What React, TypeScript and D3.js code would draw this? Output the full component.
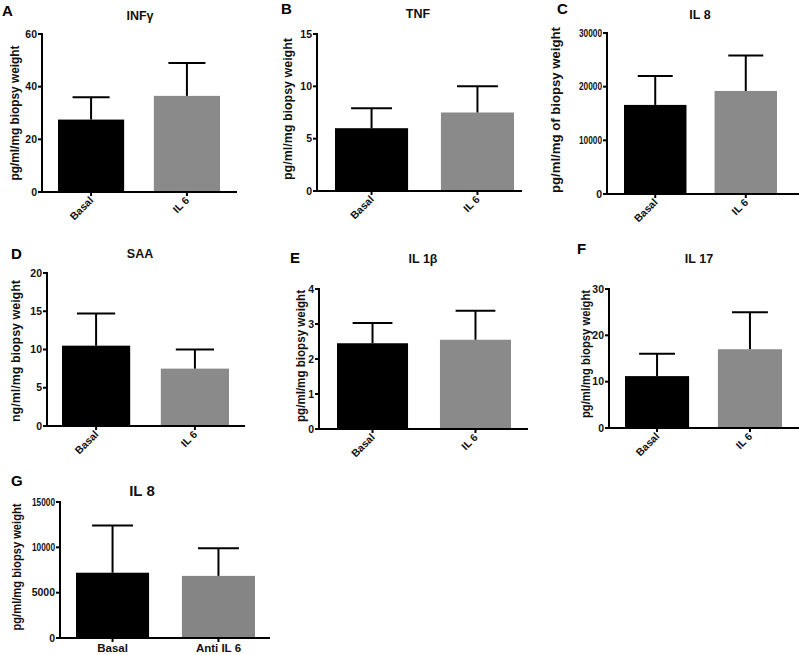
import React from 'react';
import * as d3 from 'd3';

// data, one entry per panel (A..G)
const panelLetters = ['A', 'B', 'C', 'D', 'E', 'F', 'G'];
const panelTitles = ['INFγ', 'TNF', 'IL 8', 'SAA', 'IL 1β', 'IL 17', 'IL 8'];
const yLabels = [
  'pg/ml/mg biopsy weight',
  'pg/ml/mg biopsy weight',
  'pg/ml/mg of biopsy weight',
  'ng/ml/mg biopsy weight',
  'pg/ml/mg biopsy weight',
  'pg/ml/mg biopsy weight',
  'pg/ml/mg biopsy weight',
];
const groups = [
  ['Basal', 'IL 6'],
  ['Basal', 'IL 6'],
  ['Basal', 'IL 6'],
  ['Basal', 'IL 6'],
  ['Basal', 'IL 6'],
  ['Basal', 'IL 6'],
  ['Basal', 'Anti IL 6'],
];
const means = [
  [27.5, 36.5],
  [6.0, 7.5],
  [16600, 19200],
  [10.5, 7.5],
  [2.45, 2.55],
  [11.2, 17.0],
  [7200, 6850],
];
const upperErr = [
  [36, 49],
  [7.9, 10.0],
  [22000, 25800],
  [14.7, 10.0],
  [3.03, 3.38],
  [16.0, 25.0],
  [12400, 9900],
];
const yTicks = [
  [0, 20, 40, 60],
  [0, 5, 10, 15],
  [0, 10000, 20000, 30000],
  [0, 5, 10, 15, 20],
  [0, 1, 2, 3, 4],
  [0, 10, 20, 30],
  [0, 5000, 10000, 15000],
];

// layout (pixels) for each panel
const layout = [
  { ax: 42, axEnd: 237, bars: [58, 220], y0: 192, y1: 34, lx: 15, ly: 113, lw: 135, tx: 140, ty: 20, tfs: 12.5, cx: 2, cy: 16, rotated: true },
  { ax: 317, axEnd: 522, bars: [335, 514], y0: 191, y1: 34, lx: 288, ly: 109, lw: 142, tx: 418, ty: 18, tfs: 12.5, cx: 281, cy: 14, rotated: true },
  { ax: 607, axEnd: 799, bars: [624, 777], y0: 194, y1: 33, lx: 556, ly: 110, lw: 166, tx: 700, ty: 19, tfs: 12.5, cx: 557, cy: 14, rotated: true },
  { ax: 47, axEnd: 245, bars: [62, 229], y0: 426, y1: 273, lx: 16, ly: 351, lw: 142, tx: 140, ty: 258, tfs: 12.5, cx: 11, cy: 259, rotated: true },
  { ax: 319, axEnd: 528, bars: [337, 511], y0: 429, y1: 289, lx: 301, ly: 356, lw: 132, tx: 423, ty: 263, tfs: 12.5, cx: 290, cy: 263, rotated: true },
  { ax: 609, axEnd: 799, bars: [625, 782], y0: 428, y1: 289, lx: 586, ly: 354, lw: 128, tx: 699, ty: 263, tfs: 12.5, cx: 577, cy: 254, rotated: true },
  { ax: 60, axEnd: 270, bars: [76, 255], y0: 638, y1: 502, lx: 17, ly: 567, lw: 127, tx: 142, ty: 496, tfs: 15, cx: 11, cy: 486, rotated: false },
];

const FONT = 'Arial, "Liberation Sans", Helvetica, sans-serif';

const Panel: React.FC<{ i: number }> = ({ i }) => {
  const L = layout[i];
  const ticks = yTicks[i];
  const y = d3.scaleLinear().domain([0, ticks[ticks.length - 1]]).range([L.y0, L.y1]);
  const x = d3.scaleBand<string>().domain(groups[i]).range(L.bars as [number, number]).paddingInner(0.31).paddingOuter(0);
  const bw = x.bandwidth();
  const fills = ['#000000', i === 6 ? '#858585' : '#8a8a8a'];

  return (
    <g fontFamily={FONT} fontWeight="bold">
      {/* bars */}
      {groups[i].map((g, j) => (
        <rect key={g} x={x(g)} y={y(means[i][j])} width={bw} height={L.y0 - y(means[i][j])} fill={fills[j]} />
      ))}
      {/* upper error bars */}
      {groups[i].map((g, j) => {
        const cxm = (x(g) || 0) + bw / 2;
        const cap = bw * 0.28;
        return (
          <g key={g + '-err'} stroke="#000" strokeWidth={2}>
            <line x1={cxm} x2={cxm} y1={y(means[i][j])} y2={y(upperErr[i][j])} />
            <line x1={cxm - cap} x2={cxm + cap} y1={y(upperErr[i][j])} y2={y(upperErr[i][j])} />
          </g>
        );
      })}
      {/* axes */}
      <line x1={L.ax} x2={L.ax} y1={L.y1 - 1} y2={L.y0} stroke="#000" strokeWidth={2} />
      <line x1={L.ax - 1} x2={L.axEnd} y1={L.y0} y2={L.y0} stroke="#000" strokeWidth={2} />
      {ticks.map(t => {
        const s = String(t);
        const long = s.length >= 5;
        return (
          <g key={t}>
            <line x1={L.ax - 4} x2={L.ax} y1={y(t)} y2={y(t)} stroke="#000" strokeWidth={2} />
            <text x={L.ax - 5} y={y(t)} dy="0.35em" textAnchor="end" fontSize={10.5} fill="#111"
              {...(long ? { textLength: 23, lengthAdjust: 'spacingAndGlyphs' } : {})}>{s}</text>
          </g>
        );
      })}
      {groups[i].map(g => {
        const cxm = (x(g) || 0) + bw / 2;
        return (
          <g key={g + '-tick'}>
            <line x1={cxm} x2={cxm} y1={L.y0} y2={L.y0 + 4} stroke="#000" strokeWidth={2} />
            {L.rotated ? (
              <text transform={`translate(${cxm + 3},${L.y0 + 9}) rotate(-45)`} textAnchor="end" fontSize={10.5} fill="#111">{g}</text>
            ) : (
              <text x={cxm} y={L.y0 + 14} textAnchor="middle" fontSize={11.5} fill="#111">{g}</text>
            )}
          </g>
        );
      })}
      {/* y label */}
      <text transform={`translate(${L.lx},${L.ly}) rotate(-90)`} textAnchor="middle" dy="0.35em" fontSize={12}
        textLength={L.lw} lengthAdjust="spacingAndGlyphs" fill="#111">{yLabels[i]}</text>
      {/* title + panel letter */}
      <text x={L.tx} y={L.ty} textAnchor="middle" fontSize={L.tfs} fill="#111">{panelTitles[i]}</text>
      <text x={L.cx} y={L.cy} fontSize={15} fill="#000">{panelLetters[i]}</text>
    </g>
  );
};

export default function App() {
  return (
    <svg width={799} height={655} style={{ position: 'absolute', left: 0, top: 0, background: '#fff' }}>
      <rect width={799} height={655} fill="#fff" />
      {panelLetters.map((_, i) => <Panel key={i} i={i} />)}
    </svg>
  );
}
